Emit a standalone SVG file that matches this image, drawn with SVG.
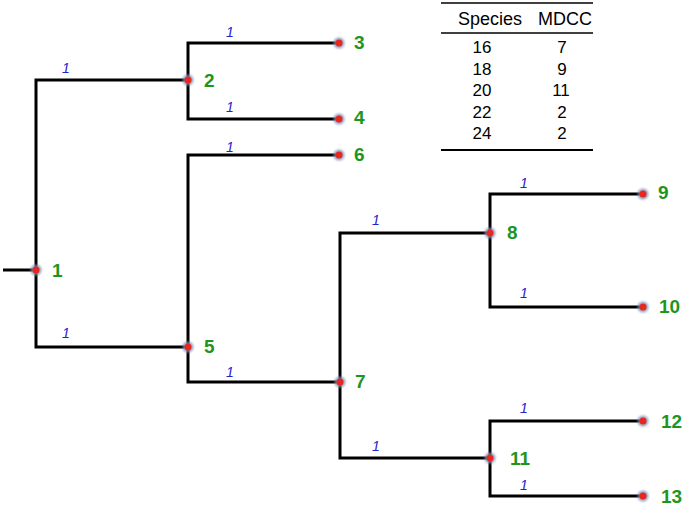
<svg xmlns="http://www.w3.org/2000/svg" width="685" height="510" viewBox="0 0 685 510">
<style>
.e{fill:none;stroke:#000;stroke-width:3;stroke-linecap:butt}
.w{font-family:"Liberation Sans",Arial,sans-serif;font-style:italic;font-size:14px;fill:#2323c8;text-anchor:middle}
.n{font-family:"Liberation Sans",Arial,sans-serif;font-weight:bold;font-size:19px;fill:#1e961e}
.t{font-family:"Liberation Sans",Arial,sans-serif;font-size:17px;fill:#000;text-anchor:middle}
.h{font-size:18px}
.halo{fill:#7d8fb8;opacity:0.8}
.dot{fill:#e8281e}
</style>
<defs>
<filter id="b" x="-50%" y="-50%" width="200%" height="200%"><feGaussianBlur stdDeviation="0.9"/></filter>
<g id="pt"><circle r="5.5" class="halo" filter="url(#b)"/><circle r="3.5" class="dot"/></g>
</defs>
<rect width="685" height="510" fill="#fff"/>
<g id="connectors">
<path class="e" d="M3 270H36"/>
<path class="e" d="M36 270V80H188"/>
<path class="e" d="M36 270V347H188"/>
<path class="e" d="M188 80V43H339"/>
<path class="e" d="M188 80V119H339"/>
<path class="e" d="M188 347V155H339"/>
<path class="e" d="M188 347V382H340"/>
<path class="e" d="M340 382V233H490"/>
<path class="e" d="M340 382V458H490"/>
<path class="e" d="M490 233V194H643"/>
<path class="e" d="M490 233V307H643"/>
<path class="e" d="M490 458V421H643"/>
<path class="e" d="M490 458V496H643"/>
<text class="w" x="66" y="73">1</text>
<text class="w" x="230" y="37">1</text>
<text class="w" x="230" y="112">1</text>
<text class="w" x="230" y="152">1</text>
<text class="w" x="66" y="338">1</text>
<text class="w" x="230" y="377">1</text>
<text class="w" x="376" y="225">1</text>
<text class="w" x="376" y="451">1</text>
<text class="w" x="524" y="188">1</text>
<text class="w" x="524" y="298">1</text>
<text class="w" x="524" y="413">1</text>
<text class="w" x="524" y="490">1</text>
</g>
<g id="node1"><use href="#pt" x="36" y="270"/><text class="n" x="52" y="277">1</text></g>
<g id="node2"><use href="#pt" x="188" y="80"/><text class="n" x="204" y="87">2</text></g>
<g id="node3"><use href="#pt" x="339" y="43"/><text class="n" x="354" y="49">3</text></g>
<g id="node4"><use href="#pt" x="339" y="119"/><text class="n" x="354" y="124">4</text></g>
<g id="node6"><use href="#pt" x="339" y="155"/><text class="n" x="354" y="161">6</text></g>
<g id="node5"><use href="#pt" x="188" y="347"/><text class="n" x="204" y="353">5</text></g>
<g id="node7"><use href="#pt" x="340" y="382"/><text class="n" x="355" y="388">7</text></g>
<g id="node8"><use href="#pt" x="490" y="233"/><text class="n" x="507" y="239">8</text></g>
<g id="node9"><use href="#pt" x="643" y="194"/><text class="n" x="658" y="199">9</text></g>
<g id="node10"><use href="#pt" x="643" y="307"/><text class="n" x="659" y="313">10</text></g>
<g id="node11"><use href="#pt" x="490" y="458"/><text class="n" x="510" y="465">11</text></g>
<g id="node12"><use href="#pt" x="643" y="421"/><text class="n" x="661" y="428">12</text></g>
<g id="node13"><use href="#pt" x="643" y="496"/><text class="n" x="661" y="503">13</text></g>
<g id="table">
<line x1="441" y1="3" x2="593" y2="3" stroke="#000" stroke-width="1.5"/>
<text class="t h" x="490" y="25">Species</text>
<text class="t h" x="565" y="25">MDCC</text>
<line x1="441" y1="33" x2="593" y2="33" stroke="#000" stroke-width="1.5"/>
<text class="t" x="482" y="53">16</text><text class="t" x="562" y="53">7</text>
<text class="t" x="482" y="75">18</text><text class="t" x="562" y="75">9</text>
<text class="t" x="482" y="96">20</text><text class="t" x="561" y="96">11</text>
<text class="t" x="482" y="117.5">22</text><text class="t" x="562" y="117.5">2</text>
<text class="t" x="482" y="139">24</text><text class="t" x="562" y="139">2</text>
<line x1="441" y1="150" x2="593" y2="150" stroke="#000" stroke-width="2"/>
</g>
</svg>
